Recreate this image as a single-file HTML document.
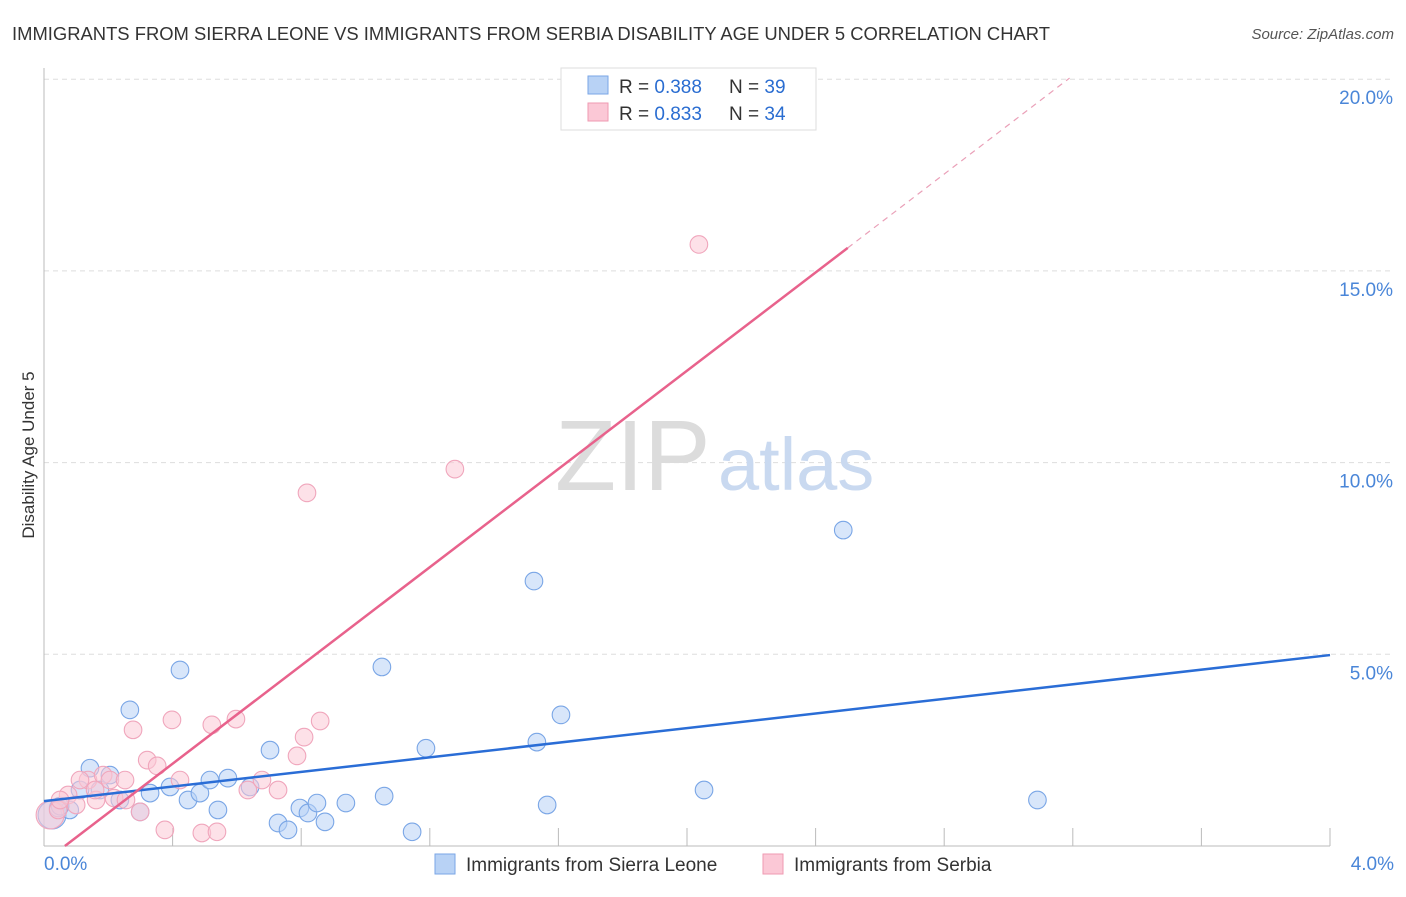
<!DOCTYPE html>
<html><head><meta charset="utf-8"><style>
body{margin:0;background:#fff;font-family:"Liberation Sans",sans-serif;}
svg text{font-family:"Liberation Sans",sans-serif;}
</style></head><body>
<svg id="chart" width="1406" height="892">
<text x="12" y="40" font-size="18" fill="#333" textLength="1038" lengthAdjust="spacingAndGlyphs">IMMIGRANTS FROM SIERRA LEONE VS IMMIGRANTS FROM SERBIA DISABILITY AGE UNDER 5 CORRELATION CHART</text>
<text x="1394" y="39" font-size="15" fill="#555" font-style="italic" text-anchor="end">Source: ZipAtlas.com</text>
<text x="34" y="455" font-size="17" fill="#333" text-anchor="middle" transform="rotate(-90 34 455)">Disability Age Under 5</text>
<g id="grid"></g>
<text x="555" y="490" font-size="100" fill="#dcdcdc" font-family="Liberation Serif">ZIP</text>
<text x="718" y="490" font-size="74" fill="#c9d9f0">atlas</text>
<g id="points"></g>
<g id="lines"></g>
<g>
<rect x="561" y="68" width="255" height="62" fill="#fff" stroke="#ddd"/>
<rect x="588" y="76" width="20" height="18" fill="#b8d2f5" stroke="#7aa6e6"/>
<rect x="588" y="103" width="20" height="18" fill="#fbc8d6" stroke="#ef9ab2"/>
<text x="619" y="93" font-size="19" fill="#333">R = <tspan fill="#2a6dd1">0.388</tspan></text>
<text x="729" y="93" font-size="19" fill="#333">N = <tspan fill="#2a6dd1">39</tspan></text>
<text x="619" y="120" font-size="19" fill="#333">R = <tspan fill="#2a6dd1">0.833</tspan></text>
<text x="729" y="120" font-size="19" fill="#333">N = <tspan fill="#2a6dd1">34</tspan></text>
</g>
<g>
<rect x="435" y="854" width="20" height="20" fill="#b8d2f5" stroke="#7aa6e6"/>
<text x="466" y="871" font-size="19" fill="#333">Immigrants from Sierra Leone</text>
<rect x="763" y="854" width="20" height="20" fill="#fbc8d6" stroke="#ef9ab2"/>
<text x="794" y="871" font-size="19" fill="#333">Immigrants from Serbia</text>
</g>
</svg>
<script>
const yTicks=[5,10,15,20];
const yTickLabels=["5.0%","10.0%","15.0%","20.0%"];
const xTickLabels=["0.0%","4.0%"];
const blueX=[0.025,0.044,0.08,0.112,0.143,0.174,0.205,0.236,0.267,0.299,0.33,0.392,0.423,0.448,0.485,0.516,0.541,0.572,0.641,0.703,0.728,0.759,0.796,0.821,0.849,0.874,0.939,1.051,1.058,1.145,1.188,1.524,1.533,1.565,1.608,2.053,2.486,3.09,0.05];
const blueY=[0.81,0.99,0.94,1.46,2.03,1.46,1.85,1.2,3.55,0.89,1.38,1.54,4.59,1.2,1.38,1.72,0.94,1.77,1.54,2.5,0.6,0.42,0.99,0.86,1.12,0.63,1.12,4.67,1.30,0.37,2.55,6.91,2.71,1.07,3.42,1.46,8.24,1.20,1.04];
const pinkX=[0.019,0.044,0.075,0.1,0.137,0.162,0.184,0.205,0.218,0.255,0.277,0.299,0.321,0.352,0.376,0.398,0.423,0.491,0.522,0.538,0.597,0.634,0.678,0.728,0.787,0.809,0.818,0.859,1.278,2.037,0.112,0.252,0.05,0.159];
const pinkY=[0.81,0.94,1.33,1.07,1.72,1.2,1.85,1.72,1.25,1.2,3.03,0.89,2.24,2.09,0.42,3.29,1.72,0.34,3.16,0.37,3.31,1.46,1.72,1.46,2.35,2.84,9.21,3.26,9.83,15.69,1.72,1.72,1.2,1.46];
const blueTrend=[[0,1.17],[4,4.98]];
const pinkTrend=[[0.065,0],[2.5,15.6]];
const pinkDash=[[2.5,15.6],[3.19,20.03]];
const X0=44,X1=1330,Y0=846,PX=191.7/5;
const sx=v=>X0+v/4*(X1-X0), sy=v=>Y0-v*PX;
const NS="http://www.w3.org/2000/svg";
function mk(t,p,a){const e=document.createElementNS(NS,t);for(const k in a)e.setAttribute(k,a[k]);p.appendChild(e);return e;}
const grid=document.getElementById('grid');
yTicks.forEach((t,i)=>{
 const l=mk('line',grid,{x1:X0,x2:1394,y1:sy(t),y2:sy(t),stroke:'#ddd','stroke-dasharray':'5,4'});
 
 
 const tx=mk('text',grid,{x:1393,y:sy(t)+25,'font-size':19,fill:'#4a86d8','text-anchor':'end'});tx.textContent=yTickLabels[i];
 
 
});
const ax=mk('line',grid,{x1:X0,x2:X0,y1:68,y2:Y0,stroke:'#bbb'});


const bx=mk('line',grid,{x1:X0,x2:X1,y1:Y0,y2:Y0,stroke:'#bbb'});


for(let i=1;i<=10;i++){const x=X0+i*(X1-X0)/10;const t=mk('line',grid,{x1:x,x2:x,y1:Y0-18,y2:Y0,stroke:'#bbb'});
 
 }
[[0,44,'start'],[4,1394,'end']].forEach((d,i)=>{const t=mk('text',grid,{x:d[1],y:870,'font-size':19,fill:'#4a86d8','text-anchor':d[2]});t.textContent=xTickLabels[i];
 
 });
const pts=document.getElementById('points');
function dots(xs,ys,fill,stroke,name){xs.forEach((x,i)=>{const c=mk('circle',pts,{cx:sx(x),cy:sy(ys[i]),r:i==0?14:8.8,fill:fill,'fill-opacity':0.55,stroke:stroke,'stroke-width':1.1});
 
 });}
dots(blueX,blueY,'#b8d2f5','#7aa6e6','point-sierra-leone');
dots(pinkX,pinkY,'#fbc8d6','#f0a6bc','point-serbia');
const ln=document.getElementById('lines');
function line(d,c,w,dash,name){const a={x1:sx(d[0][0]),y1:sy(d[0][1]),x2:sx(d[1][0]),y2:sy(d[1][1]),stroke:c,'stroke-width':w};if(dash)a['stroke-dasharray']=dash;const l=mk('line',ln,a);
 
 }
line(blueTrend,'#2a6dd6',2.5,null,'trend-line-sierra-leone');
line(pinkTrend,'#e8628c',2.5,null,'trend-line-serbia');
line(pinkDash,'#eaa0b8',1.2,'6,5','trend-line-serbia-extrapolated');
</script>
</body></html>
